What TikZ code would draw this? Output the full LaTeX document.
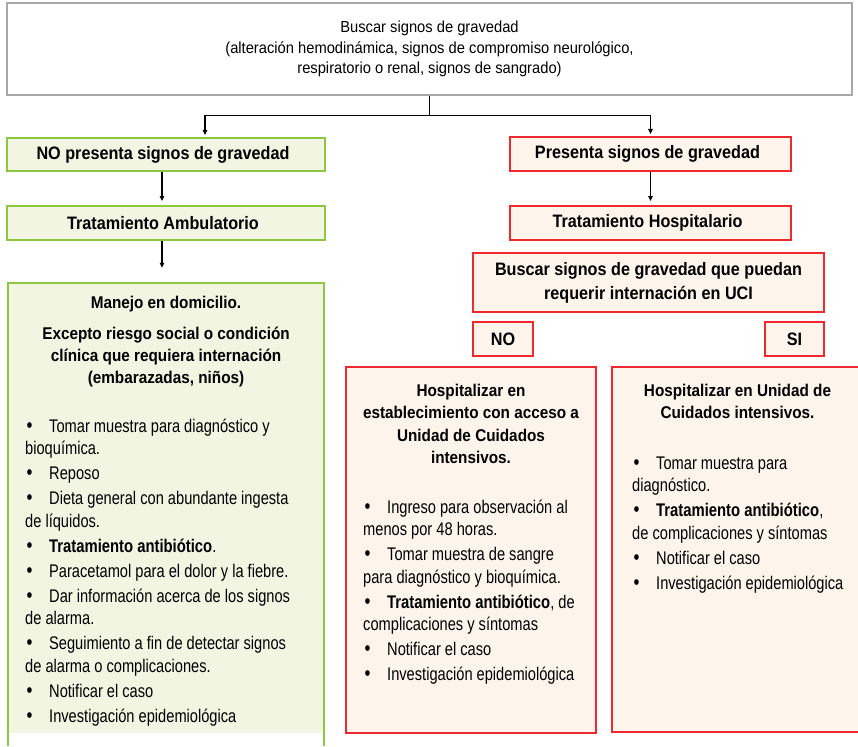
\documentclass[tikz,border=0pt]{standalone}
\usepackage{fontspec}
\setmainfont{Liberation Sans}[FakeStretch=0.8, BoldFeatures={FakeStretch=0.9}]
\newfontfamily\topfont{Liberation Sans}[FakeStretch=0.92]
\newfontfamily\lstfont{Liberation Sans}[FakeStretch=0.8, BoldFeatures={FakeStretch=0.81}]
\usetikzlibrary{arrows.meta,calc}
\definecolor{gborder}{HTML}{8DC63F}
\definecolor{gfill}{HTML}{F2F5E2}
\definecolor{rborder}{HTML}{EE2A2F}
\definecolor{rfill}{HTML}{FDF4EB}
\definecolor{grayb}{HTML}{A8A8A8}
\newcommand\mybul{\makebox[24pt][l]{\hspace{1.5pt}\scalebox{1.15}{\textbullet}}}
\newcommand\mystrut{\rule{0pt}{17pt}}
\newcommand\lft{\hspace*{6pt}}
\begin{document}
\begin{tikzpicture}[x=1pt,y=-1pt,
  gbox/.style={draw=gborder, fill=gfill, line width=2pt, inner sep=0pt},
  rbox/.style={draw=rborder, fill=rfill, line width=2pt, inner sep=0pt},
  bt/.style={font=\fontsize{18}{22.5}\selectfont\bfseries, align=center},
  ttl/.style={font=\fontsize{17}{22.4}\selectfont\bfseries, align=center, anchor=north, inner sep=0pt},
  lst/.style={font=\lstfont\fontsize{18.3}{22.5}\selectfont, align=left, anchor=north west, inner sep=0pt},
  arr/.style={line width=1.4pt, -{Triangle[length=5pt,width=4.5pt]}}]
\useasboundingbox[fill=white] (0,0) rectangle (858,746);

% top box
\node[draw=grayb, line width=1.5pt, fill=white, minimum width=845pt, minimum height=92pt,
  align=center, inner sep=0pt, font=\topfont\fontsize{16}{20.5}\selectfont] (top) at (429.5,49)
  {Buscar signos de gravedad\\(alteración hemodinámica, signos de compromiso neurológico,\\respiratorio o renal, signos de sangrado)};

% left column
\node[gbox, bt, minimum width=318pt, minimum height=33pt] (nopres) at (166,154.5) {NO presenta signos de gravedad\lft};
\node[gbox, bt, minimum width=318pt, minimum height=34pt] (amb) at (166,223) {Tratamiento Ambulatorio\lft};
\node[fill=gfill, inner sep=0pt, minimum width=316pt, minimum height=450pt] (manejo) at (166,508) {};
\draw[draw=gborder, line width=2pt] ($(manejo.south west)+(0,13)$) -- (manejo.north west)
  -- (manejo.north east) -- ($(manejo.south east)+(0,13)$);

% right column
\node[rbox, bt, minimum width=281pt, minimum height=34pt] (pres) at (650.5,154) {Presenta signos de gravedad\lft};
\node[rbox, bt, minimum width=281pt, minimum height=34pt] (hosp) at (650.5,223) {Tratamiento Hospitalario\lft};
\node[rbox, bt, font=\fontsize{18}{24}\selectfont\bfseries, minimum width=351pt, minimum height=59pt] (uci) at (648.5,282.5)
  {Buscar signos de gravedad que puedan\\requerir internación en UCI};
\node[rbox, bt, minimum width=60pt, minimum height=34pt] (no) at (503,339) {NO};
\node[rbox, bt, minimum width=59pt, minimum height=34pt] (si) at (794.5,339) {SI};
\node[rbox, minimum width=250pt, minimum height=366pt] (hosp1) at (471,550) {};
\node[rbox, minimum width=260pt, minimum height=365pt] (uci1) at (742,549.5) {};

% connectors
\draw[arr, shorten >=2pt] (top.south) -- ++(0,20) -| ([xshift=39pt]nopres.north);
\draw[arr, shorten >=2pt] (top.south) -- ++(0,20) -| (pres.north);
\draw[arr, shorten >=4pt] ([xshift=-4pt]nopres.south) -- ([xshift=-4pt]amb.north);
\draw[arr, shorten >=15pt] ([xshift=-4pt]amb.south) -- ([xshift=-4pt]manejo.north);
\draw[arr, shorten >=4pt] (pres.south) -- (hosp.north);

% left box texts
\node[ttl] (mtitle) at (166,291) {\mystrut Manejo en domicilio.\\[8.5pt]Excepto riesgo social o condición\\clínica que requiera internación\\(embarazadas, niños)};
\node[lst] (mlist) at (25,415) {\mystrut\mybul Tomar muestra para diagnóstico y\\bioquímica.\\[2.5pt]
\mybul Reposo\\[2.5pt]
\mybul Dieta general con abundante ingesta\\de líquidos.\\[2.5pt]
\mybul\textbf{Tratamiento antibiótico}.\\[2.5pt]
\mybul Paracetamol para el dolor y la fiebre.\\[2.5pt]
\mybul Dar información acerca de los signos\\de alarma.\\[2.5pt]
\mybul Seguimiento a fin de detectar signos\\de alarma o complicaciones.\\[2.5pt]
\mybul Notificar el caso\\[2.5pt]
\mybul Investigación epidemiológica};

% middle box texts
\node[ttl] (htitle) at (471,379) {\mystrut Hospitalizar en\\establecimiento con acceso a\\Unidad de Cuidados\\intensivos.};
\node[lst] (hlist) at (363,496) {\mystrut\mybul Ingreso para observación al\\menos por 48 horas.\\[2.5pt]
\mybul Tomar muestra de sangre\\para diagnóstico y bioquímica.\\[2.5pt]
\mybul\textbf{Tratamiento antibiótico}, de\\complicaciones y síntomas\\[2.5pt]
\mybul Notificar el caso\\[2.5pt]
\mybul Investigación epidemiológica};

% right box texts
\node[ttl] (utitle) at (737.5,379) {\mystrut Hospitalizar en Unidad de\\Cuidados intensivos.};
\node[lst] (ulist) at (632,452) {\mystrut\mybul Tomar muestra para\\diagnóstico.\\[2.5pt]
\mybul\textbf{Tratamiento antibiótico},\\de complicaciones y síntomas\\[2.5pt]
\mybul Notificar el caso\\[2.5pt]
\mybul Investigación epidemiológica};
\end{tikzpicture}
\end{document}
